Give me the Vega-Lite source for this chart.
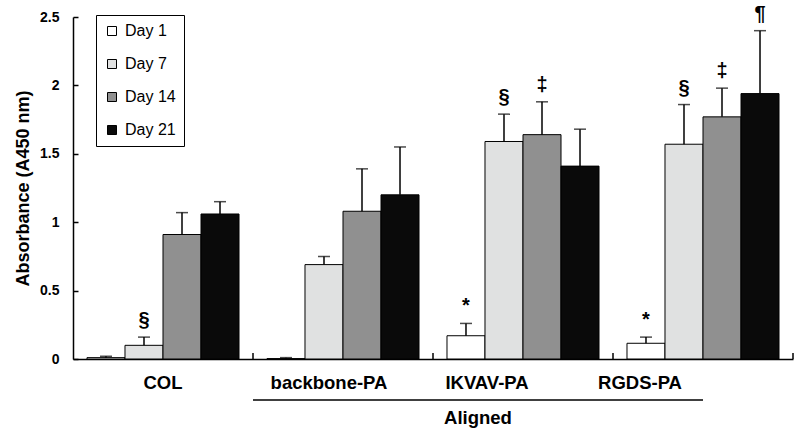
{
  "$schema": "https://vega.github.io/schema/vega-lite/v6.json",
  "width": 720,
  "height": 342,
  "autosize": {"type": "none"},
  "padding": {"left": 73, "top": 17, "right": 7, "bottom": 78},
  "background": "white",
  "config": {"view": {"stroke": null}, "font": "Liberation Sans"},
  "data": {
    "values": [
      {"group": "COL", "day": "Day 1", "value": 0.01, "err": 0.02, "sig": ""},
      {"group": "COL", "day": "Day 7", "value": 0.10, "err": 0.16, "sig": "§"},
      {"group": "COL", "day": "Day 14", "value": 0.91, "err": 1.07, "sig": ""},
      {"group": "COL", "day": "Day 21", "value": 1.06, "err": 1.15, "sig": ""},
      {"group": "backbone-PA", "day": "Day 1", "value": 0.003, "err": 0.01, "sig": ""},
      {"group": "backbone-PA", "day": "Day 7", "value": 0.69, "err": 0.75, "sig": ""},
      {"group": "backbone-PA", "day": "Day 14", "value": 1.08, "err": 1.39, "sig": ""},
      {"group": "backbone-PA", "day": "Day 21", "value": 1.20, "err": 1.55, "sig": ""},
      {"group": "IKVAV-PA", "day": "Day 1", "value": 0.17, "err": 0.26, "sig": "*"},
      {"group": "IKVAV-PA", "day": "Day 7", "value": 1.59, "err": 1.79, "sig": "§"},
      {"group": "IKVAV-PA", "day": "Day 14", "value": 1.64, "err": 1.88, "sig": "‡"},
      {"group": "IKVAV-PA", "day": "Day 21", "value": 1.41, "err": 1.68, "sig": ""},
      {"group": "RGDS-PA", "day": "Day 1", "value": 0.115, "err": 0.16, "sig": "*"},
      {"group": "RGDS-PA", "day": "Day 7", "value": 1.57, "err": 1.86, "sig": "§"},
      {"group": "RGDS-PA", "day": "Day 14", "value": 1.77, "err": 1.98, "sig": "‡"},
      {"group": "RGDS-PA", "day": "Day 21", "value": 1.94, "err": 2.40, "sig": "¶"}
    ]
  },
  "layer": [
    {
      "mark": {"type": "bar", "stroke": "black", "strokeWidth": 1},
      "encoding": {
        "x": {
          "field": "group", "type": "nominal",
          "scale": {"domain": ["COL", "backbone-PA", "IKVAV-PA", "RGDS-PA"], "paddingInner": 0, "paddingOuter": 0},
          "axis": {
            "title": null, "labelAngle": 0, "labelFontSize": 18.5, "labelFontWeight": "bold",
            "labelColor": "black", "domainColor": "black", "domainWidth": 1.5,
            "ticks": false, "labelPadding": 14,
            "labelOffset": {
              "condition": [
                {"test": "datum.value === 'backbone-PA'", "value": -14},
                {"test": "datum.value === 'IKVAV-PA'", "value": -36},
                {"test": "datum.value === 'RGDS-PA'", "value": -63}
              ],
              "value": 0
            }
          }
        },
        "xOffset": {
          "field": "day", "type": "nominal",
          "scale": {"domain": ["Day 1", "Day 7", "Day 14", "Day 21"], "paddingInner": 0, "paddingOuter": 0.368}
        },
        "y": {
          "field": "value", "type": "quantitative",
          "scale": {"domain": [0, 2.5], "nice": false},
          "axis": {
            "title": "Absorbance (A450 nm)", "titleFontSize": 18, "titleFontWeight": "bold",
            "titleColor": "black", "titlePadding": 7,
            "values": [0, 0.5, 1, 1.5, 2, 2.5], "format": "~g",
            "labelFontSize": 14, "labelFontWeight": "bold", "labelColor": "black",
            "domainColor": "black", "domainWidth": 1.5, "tickColor": "black", "tickWidth": 1.5,
            "tickSize": -5, "labelPadding": 19, "grid": false
          }
        },
        "fill": {
          "field": "day", "type": "nominal",
          "scale": {"domain": ["Day 1", "Day 7", "Day 14", "Day 21"], "range": ["#ffffff", "#e0e1e1", "#909090", "#0a0a0a"]},
          "legend": {
            "title": null, "orient": "none", "legendX": 23, "legendY": -2,
            "strokeColor": "black", "padding": 8, "labelFontSize": 16, "labelColor": "black",
            "symbolType": "square", "symbolSize": 81, "symbolStrokeColor": "black",
            "symbolStrokeWidth": 1, "rowPadding": 17, "labelOffset": 5
          }
        }
      }
    },
    {
      "mark": {"type": "rule", "stroke": "black", "strokeWidth": 1.5},
      "encoding": {
        "x": {"field": "group", "type": "nominal"},
        "xOffset": {"field": "day", "type": "nominal"},
        "y": {"field": "value", "type": "quantitative"},
        "y2": {"field": "err"}
      }
    },
    {
      "mark": {"type": "tick", "orient": "horizontal", "color": "black", "size": 12, "thickness": 1.5},
      "encoding": {
        "x": {"field": "group", "type": "nominal"},
        "xOffset": {"field": "day", "type": "nominal"},
        "y": {"field": "err", "type": "quantitative"}
      }
    },
    {
      "transform": [{"filter": "datum.sig !== ''"}],
      "mark": {"type": "text", "fontSize": 20, "fontWeight": "bold", "color": "black", "baseline": "middle", "dy": -17},
      "encoding": {
        "x": {"field": "group", "type": "nominal"},
        "xOffset": {"field": "day", "type": "nominal"},
        "y": {"field": "err", "type": "quantitative"},
        "text": {"field": "sig"}
      }
    },
    {
      "data": {"values": [{"g": "backbone-PA"}, {"g": "IKVAV-PA"}, {"g": "RGDS-PA"}]},
      "mark": {"type": "rule", "stroke": "black", "strokeWidth": 1.5},
      "encoding": {
        "x": {"field": "g", "type": "nominal", "bandPosition": 0},
        "y": {"datum": 0},
        "y2": {"datum": 0.044}
      }
    },
    {
      "data": {"values": [{"g": "RGDS-PA"}]},
      "mark": {"type": "rule", "stroke": "black", "strokeWidth": 1.5},
      "encoding": {
        "x": {"field": "g", "type": "nominal", "bandPosition": 1},
        "y": {"datum": 0},
        "y2": {"datum": 0.044}
      }
    },
    {
      "data": {"values": [{"from": "backbone-PA", "to": "RGDS-PA", "level": -0.3}]},
      "mark": {"type": "rule", "stroke": "black", "strokeWidth": 1.5},
      "encoding": {
        "x": {"field": "from", "type": "nominal", "bandPosition": 0},
        "x2": {"field": "to"},
        "y": {"field": "level", "type": "quantitative"}
      }
    },
    {
      "data": {"values": [{"at": "IKVAV-PA", "level": -0.43, "label": "Aligned"}]},
      "mark": {"type": "text", "fontSize": 18.5, "fontWeight": "bold", "color": "black", "baseline": "middle"},
      "encoding": {
        "x": {"field": "at", "type": "nominal", "bandPosition": 0.25},
        "y": {"field": "level", "type": "quantitative"},
        "text": {"field": "label"}
      }
    }
  ]
}
